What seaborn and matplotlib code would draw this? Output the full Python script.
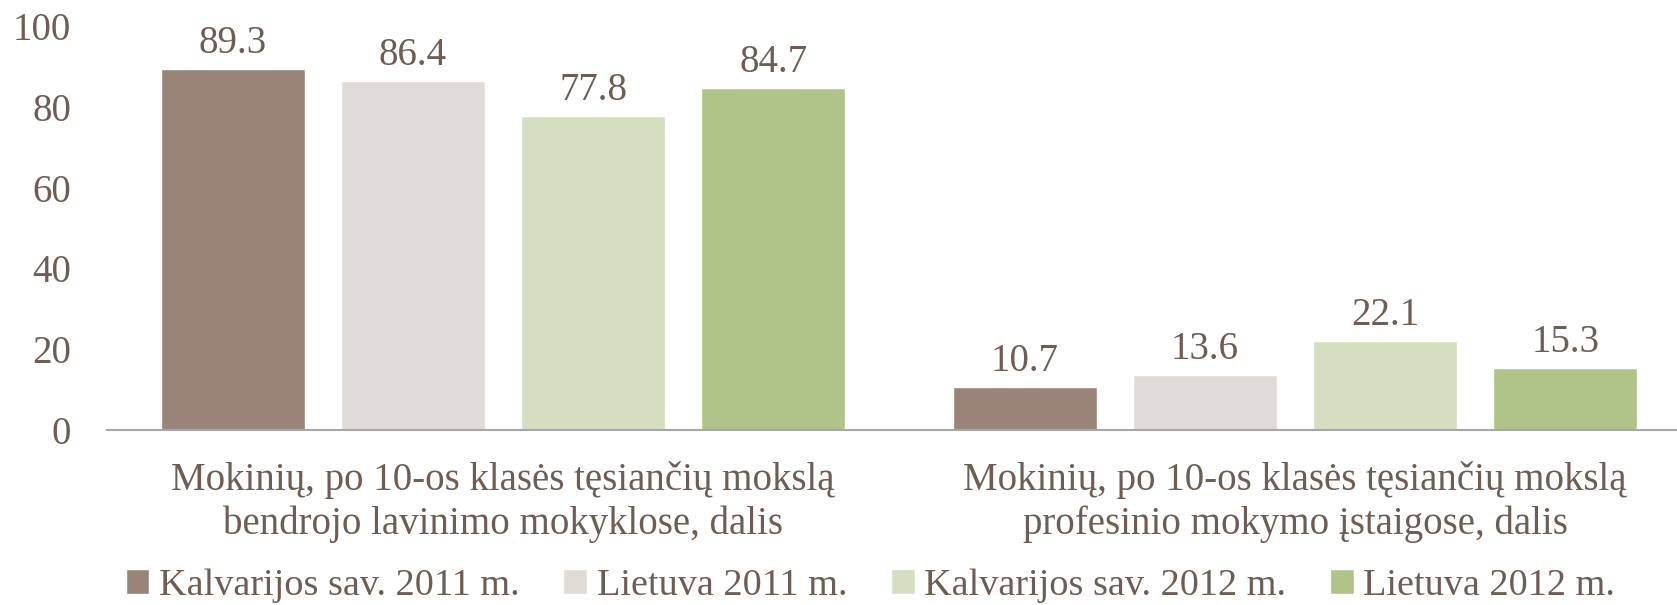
import pandas as pd
import seaborn as sns
import matplotlib.pyplot as plt
from matplotlib.patches import Patch

sns.set_style("white")
plt.rcParams['font.family'] = ['Liberation Serif', 'DejaVu Serif']

# data
categories = ["Mokinių, po 10-os klasės tęsiančių mokslą\nbendrojo lavinimo mokyklose, dalis",
              "Mokinių, po 10-os klasės tęsiančių mokslą\nprofesinio mokymo įstaigose, dalis"]
series = ["Kalvarijos sav. 2011 m.", "Lietuva 2011 m.",
          "Kalvarijos sav. 2012 m.", "Lietuva 2012 m."]
kalv_2011 = [89.3, 10.7]
liet_2011 = [86.4, 13.6]
kalv_2012 = [77.8, 22.1]
liet_2012 = [84.7, 15.3]
colors = ["#9A8477", "#E0DBD7", "#D3DFC0", "#B0C48A"]
text_color = "#6E5D52"

rows = []
for name, vals in zip(series, [kalv_2011, liet_2011, kalv_2012, liet_2012]):
    for cat, v in zip(categories, vals):
        rows.append({"Category": cat, "Series": name, "Value": v})
df = pd.DataFrame(rows)

fig = plt.figure(figsize=(16.77, 6.05), dpi=100)
ax = fig.add_axes([107 / 1677, 1 - 430 / 605, 1584 / 1677, (430 - 26) / 605])

sns.barplot(data=df, x="Category", y="Value", hue="Series", palette=colors,
            width=0.91, gap=0.2, ax=ax, legend=False, saturation=1)

for c in ax.containers:
    ax.bar_label(c, fmt="%.1f", padding=5, fontsize=28, color=text_color)

ax.set_ylim(0, 100)
ax.set_xlim(-0.5, 1.5)
ax.set_yticks([0, 20, 40, 60, 80, 100])
ax.set_xlabel("")
ax.set_ylabel("")
ax.tick_params(axis='y', labelsize=28, labelcolor=text_color, length=0, pad=26)
ax.tick_params(axis='x', labelsize=28, labelcolor=text_color, length=0, pad=22)
for lbl in ax.get_xticklabels():
    lbl.set_linespacing(1.25)
for s in ["top", "right", "left"]:
    ax.spines[s].set_visible(False)
ax.spines["bottom"].set_color("#A6A6A6")
ax.spines["bottom"].set_linewidth(1.5)

handles = [Patch(facecolor=col, label=lab) for col, lab in zip(colors, series)]
fig.legend(handles=handles, loc="center", bbox_to_anchor=(0.519, 1 - 586 / 605), ncol=4,
           frameon=False, fontsize=27.5, labelcolor=text_color, borderpad=0,
           handlelength=0.62, handleheight=0.62, handletextpad=0.25, columnspacing=1.15)

fig.savefig("out.png", dpi=100)
